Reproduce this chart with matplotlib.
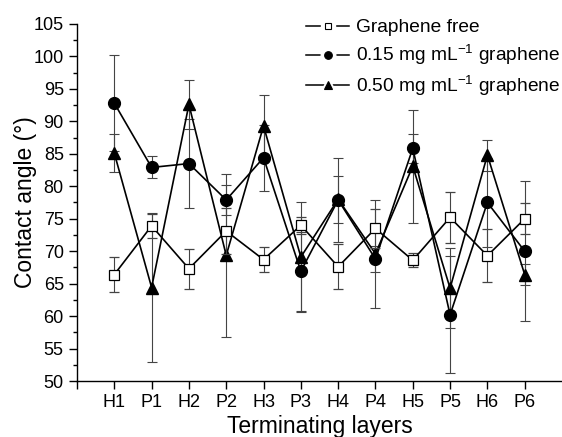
"""
Contact angle vs terminating layer for three graphene loadings
"""

# %% Imports

import matplotlib
matplotlib.use('Agg')
import matplotlib.pyplot as plt
from matplotlib.lines import Line2D
from matplotlib.ticker import MultipleLocator


# %% Data

layers = ['H1', 'P1', 'H2', 'P2', 'H3', 'P3',
          'H4', 'P4', 'H5', 'P5', 'H6', 'P6']

free = [66.4, 73.9, 67.3, 73.1, 68.7, 74.0, 67.6, 73.5, 68.6, 75.2, 69.3, 75.0]
free_err = [2.65, 1.8, 3.1, 3.5, 1.95, 1.3, 3.45, 3.0, 1.05, 3.95, 4.1, 2.35]

g015 = [92.8, 82.9, 83.5, 77.9, 84.4, 66.9, 77.9, 68.8, 85.85, 60.2, 77.5, 70.0]
g015_err = [7.4, 1.7, 6.9, 2.3, 5.1, 6.1, 6.5, 2.0, 2.2, 9.0, 6.8, 10.8]

g050 = [85.1, 64.4, 92.6, 69.35, 89.3, 69.1, 78.0, 69.6, 83.1, 64.3, 84.8, 66.4]
g050_err = [2.9, 11.5, 3.7, 12.6, 4.8, 8.4, 3.6, 8.3, 8.7, 6.2, 2.4, 1.65]

labels = ['Graphene free',
          r'0.15 mg mL$^{\mathregular{-1}}$ graphene',
          r'0.50 mg mL$^{\mathregular{-1}}$ graphene']


# %% Style

plt.rcParams['font.family'] = ['Liberation Sans', 'DejaVu Sans']
plt.rcParams['mathtext.default'] = 'regular'

x = list(range(1, len(layers) + 1))

fig = plt.figure(figsize=(5.62, 4.37), dpi=100)
ax = fig.add_axes([77 / 562, 1 - 381 / 437, 1 - 77 / 562, (381 - 24) / 437])


# %% Plot

ebkw = dict(color='k', lw=1.2, ecolor='#444444', elinewidth=0.8,
            capsize=3.5, capthick=0.8)

ax.errorbar(x, free, yerr=free_err, marker='s', ms=6.5, mfc='white',
            mec='k', mew=0.9, zorder=3, **ebkw)
ax.errorbar(x, g015, yerr=g015_err, marker='o', ms=8.5, mfc='k',
            mec='k', zorder=2, **ebkw)
ax.errorbar(x, g050, yerr=g050_err, marker='^', ms=8.5, mfc='k',
            mec='k', zorder=2, **ebkw)


# %% Axes

ax.set_xlim(0, 13)
ax.set_ylim(50, 105)
ax.set_xticks([0] + x)
ax.set_xticklabels([''] + layers)
ax.yaxis.set_major_locator(MultipleLocator(5))
ax.yaxis.set_minor_locator(MultipleLocator(2.5))

for s in ['top', 'right']:
    ax.spines[s].set_visible(False)
for s in ['left', 'bottom']:
    ax.spines[s].set_linewidth(1.0)

ax.tick_params(axis='both', which='major', direction='out', length=5.5,
               width=1.0, labelsize=13, pad=4)
ax.tick_params(axis='y', which='minor', direction='out', length=3,
               width=1.0)

ax.set_ylabel('Contact angle (°)', fontsize=16.5)
ax.yaxis.set_label_coords(-0.082, 0.5)
ax.set_xlabel('Terminating layers', fontsize=16.5, labelpad=3)


# %% Legend: line - marker - line, no error bars, no frame

def leg_handle(marker, mfc, ms):
    """Return tuple handle: line, white halo, then the marker on top"""
    line = Line2D([], [], color='k', lw=1.1)
    halo = Line2D([], [], ls='none', marker=marker, ms=ms + 5, mfc='white',
                  mec='white')
    mark = Line2D([], [], ls='none', marker=marker, ms=ms, mfc=mfc,
                  mec='k', mew=0.8)
    return (line, halo, mark)


handles = [leg_handle('s', 'white', 5),
           leg_handle('o', 'k', 5.5),
           leg_handle('^', 'k', 6)]

ax.legend(handles, labels, loc='upper left', frameon=False,
          bbox_to_anchor=(306 / 562, 1 - 19 / 437),
          bbox_transform=fig.transFigure, fontsize=13.8,
          handlelength=2.25, handletextpad=0.35, labelspacing=0.35,
          borderpad=0, borderaxespad=0)

fig.savefig('out.png', dpi=100)
